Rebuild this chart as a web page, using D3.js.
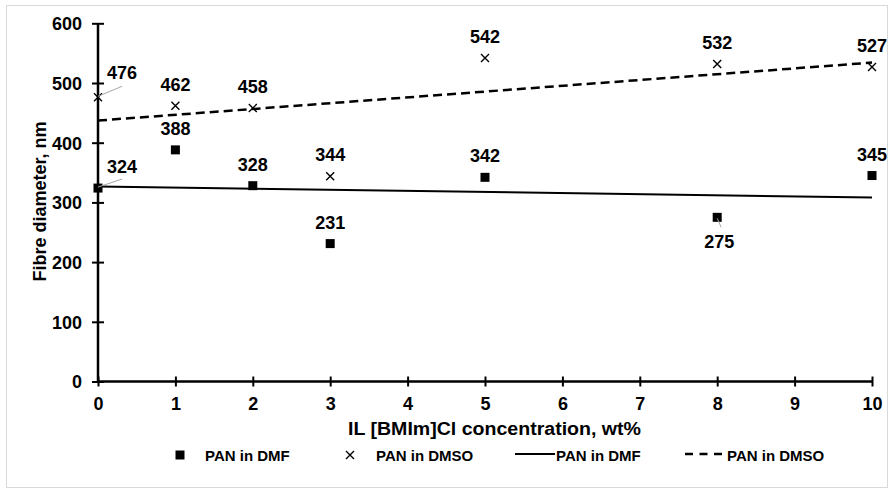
<!DOCTYPE html>
<html>
<head>
<meta charset="utf-8">
<script src="https://cdn.jsdelivr.net/npm/d3@7"></script>
<style>
  body { margin: 0; background: #fff; }
  svg { font-family: "Liberation Sans", Arial, sans-serif; }
</style>
</head>
<body>
<svg width="893" height="492"></svg>
<script>
let width = 893;
let height = 492;

// data
let concentrations = [0, 1, 2, 3, 5, 8, 10];
let panDMF = [324, 388, 328, 231, 342, 275, 345];
let panDMSO = [476, 462, 458, 344, 542, 532, 527];
let xTicks = d3.range(0, 11);
let yTicks = [0, 100, 200, 300, 400, 500, 600];

let svg = d3.select('svg');

// outer frame
svg.append('rect')
  .attr('x', 6.5).attr('y', 5.5)
  .attr('width', 881).attr('height', 482)
  .attr('fill', 'white')
  .attr('stroke', '#d9d9d9');

let x = d3.scaleLinear().domain([0, 10]).range([98, 872]);
let y = d3.scaleLinear().domain([0, 600]).range([381.5, 23.3]);

// least squares trend line
function trend(xs, ys) {
  let mx = d3.mean(xs), my = d3.mean(ys);
  let sxy = d3.sum(xs, (v, i) => (v - mx) * (ys[i] - my));
  let sxx = d3.sum(xs, v => (v - mx) * (v - mx));
  let b = sxy / sxx;
  let a = my - b * mx;
  return [[0, a], [10, a + b * 10]];
}

let line = d3.line().x(d => x(d[0])).y(d => y(d[1]));

svg.append('path')
  .attr('d', line(trend(concentrations, panDMF)))
  .attr('fill', 'none')
  .attr('stroke', 'black')
  .attr('stroke-width', 2);

svg.append('path')
  .attr('d', line(trend(concentrations, panDMSO)))
  .attr('fill', 'none')
  .attr('stroke', 'black')
  .attr('stroke-width', 2.5)
  .attr('stroke-dasharray', '9,5');

// axes
let xAxis = d3.axisBottom(x).tickValues(xTicks).tickFormat(d3.format('d'));
let yAxis = d3.axisLeft(y).tickValues(yTicks);

let gx = svg.append('g').attr('transform', `translate(0,${y(0)})`).call(xAxis);
let gy = svg.append('g').attr('transform', `translate(${x(0)},0)`).call(yAxis);

[gx, gy].forEach(g => {
  g.select('.domain').attr('stroke', 'black').attr('stroke-width', 2.5);
  g.selectAll('.tick line').attr('stroke', 'black').attr('stroke-width', 2);
  g.selectAll('.tick text')
    .attr('fill', 'black')
    .attr('font-size', 18)
    .attr('font-weight', 'bold');
});
gx.select('.domain').attr('d', `M${x(0)},0H${x(10)}`);
gy.select('.domain').attr('d', `M0,${y(0)}V${y(600)}`);
gx.selectAll('.tick line').attr('y1', -5).attr('y2', 5);
gx.selectAll('.tick text').attr('y', 28.5).attr('dy', null);
gy.selectAll('.tick line').attr('x1', -6).attr('x2', 6);
gy.selectAll('.tick text').attr('x', -16).attr('dy', '0.36em');

// axis titles
svg.append('text')
  .attr('x', 494.5).attr('y', 435)
  .attr('text-anchor', 'middle')
  .attr('font-size', 18).attr('font-weight', 'bold')
  .attr('textLength', 293).attr('lengthAdjust', 'spacingAndGlyphs')
  .text('IL [BMIm]Cl concentration, wt%');

svg.append('text')
  .attr('transform', `translate(46,201.5) rotate(-90)`)
  .attr('text-anchor', 'middle')
  .attr('font-size', 18).attr('font-weight', 'bold')
  .text('Fibre diameter, nm');

// markers
let ptsDMF = concentrations.map((c, i) => ({ x: c, v: panDMF[i] }));
let ptsDMSO = concentrations.map((c, i) => ({ x: c, v: panDMSO[i] }));

let crossPath = 'M-4,-4L4,4M-4,4L4,-4';

svg.append('g').selectAll('rect')
  .data(ptsDMF)
  .enter()
    .append('rect')
    .attr('x', d => x(d.x) - 4.5)
    .attr('y', d => y(d.v) - 4.5)
    .attr('width', 9)
    .attr('height', 9)
    .attr('fill', 'black');

svg.append('g').selectAll('path')
  .data(ptsDMSO)
  .enter()
    .append('path')
    .attr('d', crossPath)
    .attr('transform', d => `translate(${x(d.x)},${y(d.v)})`)
    .attr('fill', 'none')
    .attr('stroke', 'black')
    .attr('stroke-width', 1.4);

// data labels; a few sit off to the side with a leader line
let offsets = {
  'DMF0': { dx: 24, dy: -15, leader: [[0, -1], [24, -9]] },
  'DMSO0': { dx: 24, dy: -18, leader: [[0, -1], [24, -11]] },
  'DMF8': { dx: 2, dy: 31, leader: [[0, 1], [4, 10]] }
};

let labels = ptsDMF.map(d => Object.assign({ key: 'DMF' + d.x }, d))
  .concat(ptsDMSO.map(d => Object.assign({ key: 'DMSO' + d.x }, d)));

labels.forEach(d => {
  let o = offsets[d.key] || { dx: 0, dy: -15 };
  let px = x(d.x), py = y(d.v);
  if (o.leader) {
    svg.append('line')
      .attr('x1', px + o.leader[0][0]).attr('y1', py + o.leader[0][1])
      .attr('x2', px + o.leader[1][0]).attr('y2', py + o.leader[1][1])
      .attr('stroke', '#a6a6a6').attr('stroke-width', 1);
  }
  svg.append('text')
    .attr('x', px + o.dx)
    .attr('y', py + o.dy)
    .attr('text-anchor', 'middle')
    .attr('font-size', 18).attr('font-weight', 'bold')
    .text(d.v);
});

// legend
let legend = svg.append('g').attr('font-size', 15).attr('font-weight', 'bold');
let ly = 455;
legend.append('rect').attr('x', 175.5).attr('y', ly - 4.5).attr('width', 9).attr('height', 9);
legend.append('text').attr('x', 205).attr('y', ly + 5.5).text('PAN in DMF');
legend.append('path').attr('d', crossPath).attr('transform', `translate(350,${ly})`)
  .attr('fill', 'none').attr('stroke', 'black').attr('stroke-width', 1.4);
legend.append('text').attr('x', 376).attr('y', ly + 5.5).text('PAN in DMSO');
legend.append('line').attr('x1', 515).attr('x2', 555).attr('y1', ly - 1).attr('y2', ly - 1)
  .attr('stroke', 'black').attr('stroke-width', 2);
legend.append('text').attr('x', 556).attr('y', ly + 5.5).text('PAN in DMF');
legend.append('line').attr('x1', 685).attr('x2', 723).attr('y1', ly - 1).attr('y2', ly - 1)
  .attr('stroke', 'black').attr('stroke-width', 2.5).attr('stroke-dasharray', '8,6.5');
legend.append('text').attr('x', 727).attr('y', ly + 5.5).text('PAN in DMSO');
</script>
</body>
</html>
